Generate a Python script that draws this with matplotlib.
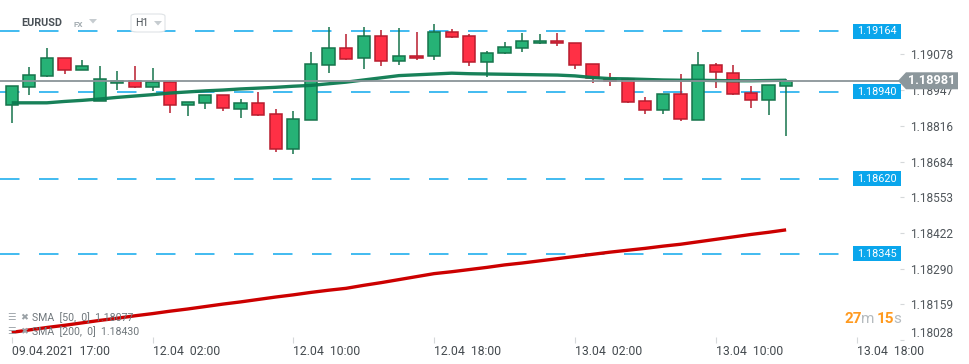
import matplotlib
matplotlib.use("Agg")
import matplotlib.pyplot as plt
from matplotlib.patches import Polygon, Rectangle, FancyBboxPatch
import numpy as np

plt.rcParams["font.family"] = ["Roboto", "DejaVu Sans"]

# EURUSD H1 candles (open, high, low, close)
opens = [1.18891, 1.18957, 1.18998, 1.19064, 1.19020, 1.18906, 1.18974, 1.18981, 1.18957, 1.18975,
         1.18891, 1.18898, 1.18928, 1.18876, 1.18898, 1.18858, 1.18729, 1.18836, 1.19038, 1.19100,
         1.19064, 1.19145, 1.19053, 1.19071, 1.19071, 1.19159, 1.19145, 1.19049, 1.19082, 1.19100,
         1.19119, 1.19126, 1.19119, 1.19042, 1.18987, 1.18988, 1.18906, 1.18873, 1.18931, 1.18838,
         1.19038, 1.19009, 1.18935, 1.18909, 1.18961]
highs = [1.18961, 1.19032, 1.19100, 1.19065, 1.19056, 1.19034, 1.19017, 1.19034, 1.19027, 1.18980,
         1.18903, 1.18929, 1.18929, 1.18913, 1.18939, 1.18878, 1.18869, 1.19086, 1.19179, 1.19153,
         1.19179, 1.19167, 1.19175, 1.19160, 1.19190, 1.19171, 1.19153, 1.19089, 1.19123, 1.19157,
         1.19153, 1.19157, 1.19120, 1.19043, 1.19010, 1.18993, 1.18920, 1.18932, 1.19007, 1.19087,
         1.19045, 1.19038, 1.18961, 1.18966, 1.18989]
lows = [1.18827, 1.18930, 1.18995, 1.19007, 1.19019, 1.18905, 1.18948, 1.18956, 1.18942, 1.18862,
        1.18853, 1.18878, 1.18871, 1.18845, 1.18853, 1.18720, 1.18713, 1.18835, 1.19009, 1.19059,
        1.19025, 1.19034, 1.19038, 1.19056, 1.19056, 1.19137, 1.19034, 1.18994, 1.19078, 1.19086,
        1.19118, 1.19108, 1.19023, 1.18972, 1.18960, 1.18901, 1.18860, 1.18860, 1.18832, 1.18837,
        1.18953, 1.18930, 1.18880, 1.18854, 1.18777]
closes = [1.18961, 1.19001, 1.19064, 1.19020, 1.19034, 1.18987, 1.18981, 1.18957, 1.18975, 1.18891,
          1.18902, 1.18928, 1.18880, 1.18898, 1.18854, 1.18729, 1.18839, 1.19042, 1.19100, 1.19060,
          1.19145, 1.19053, 1.19071, 1.19064, 1.19159, 1.19141, 1.19049, 1.19082, 1.19104, 1.19126,
          1.19126, 1.19119, 1.19038, 1.18990, 1.18979, 1.18902, 1.18873, 1.18931, 1.18839, 1.19038,
          1.19012, 1.18931, 1.18909, 1.18964, 1.18981]

# moving averages
sma50 = [1.18900, 1.18900, 1.18900, 1.18905, 1.18909, 1.18914, 1.18920, 1.18925, 1.18930, 1.18936,
         1.18940, 1.18944, 1.18947, 1.18951, 1.18954, 1.18957, 1.18961, 1.18964, 1.18970, 1.18976,
         1.18984, 1.18992, 1.19000, 1.19003, 1.19006, 1.19009, 1.19007, 1.19006, 1.19005, 1.19004,
         1.19003, 1.19002, 1.18999, 1.18993, 1.18989, 1.18988, 1.18986, 1.18984, 1.18983, 1.18983,
         1.18982, 1.18981, 1.18981, 1.18982, 1.18983]
sma200 = [1.18056, 1.18065, 1.18074, 1.18082, 1.18091, 1.18100, 1.18108, 1.18117, 1.18125, 1.18134,
          1.18142, 1.18151, 1.18160, 1.18168, 1.18177, 1.18186, 1.18194, 1.18203, 1.18211, 1.18218,
          1.18229, 1.18239, 1.18250, 1.18261, 1.18272, 1.18279, 1.18287, 1.18295, 1.18304, 1.18311,
          1.18319, 1.18327, 1.18335, 1.18343, 1.18351, 1.18358, 1.18365, 1.18373, 1.18380, 1.18389,
          1.18398, 1.18407, 1.18416, 1.18424, 1.18433]

level_lines = [1.19164, 1.18940, 1.18620, 1.18345]
last_price = 1.18981
y_ticks = [1.19078, 1.18947, 1.18816, 1.18684, 1.18553, 1.18422, 1.18290, 1.18159, 1.18028]
x_tick_pos = [0, 8, 16, 24, 32, 40, 48]
x_tick_labels = ["09.04.2021  17:00", "12.04  02:00", "12.04  10:00", "12.04  18:00",
                 "13.04  02:00", "13.04  10:00", "13.04  18:00"]

W, H = 970, 364
fig = plt.figure(figsize=(W / 100, H / 100), dpi=100)
ax = fig.add_axes([0, 24 / H, 900 / W, 340 / H])
ax.set_xlim(-0.665, 50.47)
ax.set_ylim(1.18028, 1.19278)
for s in ax.spines.values():
    s.set_visible(False)

GREEN, GREEN_EDGE = "#26b276", "#16744c"
RED, RED_EDGE = "#ff3045", "#b81c2e"

x = np.arange(len(opens))
o = np.array(opens); c = np.array(closes)
up = c >= o
body_lo = np.minimum(o, c)
body_h = np.maximum(np.abs(c - o), 0.00006)
fills = np.where(up, GREEN, RED)
edges = np.where(up, GREEN_EDGE, RED_EDGE)

ax.vlines(x, lows, highs, colors=edges, linewidth=1.1, zorder=3)
ax.bar(x, body_h, bottom=body_lo, width=0.7, color=fills, edgecolor=edges,
       linewidth=1.1, zorder=4)

# SMA lines
ax.plot(x, sma50, color="#0b7a50", linewidth=2.4, zorder=5, alpha=0.95, solid_capstyle="butt")
ax.plot(x, sma200, color="#cc0000", linewidth=2.4, zorder=5, solid_capstyle="butt")

# horizontal levels with tags
for lv in level_lines:
    ax.plot([0, 853 / 900], [lv, lv], transform=ax.get_yaxis_transform(),
            color="#33b5ef", linewidth=1.3, dashes=(10.8, 10.8), dash_capstyle="butt",
            zorder=2)
    y_pix = ax.transData.transform((0, lv))[1]
    fig.patches.append(Rectangle((853 / W, (y_pix - 7.5) / H), 48 / W, 15 / H,
                                 transform=fig.transFigure, facecolor="#0aa6ec",
                                 edgecolor="none", zorder=10))
    fig.text(877 / W, y_pix / H, f"{lv:.5f}", color="white", fontsize=7.8,
             ha="center", va="center", zorder=11)

# last price line + tag
ax.plot([0, 1], [last_price, last_price], transform=ax.get_yaxis_transform(),
        color="#8a9499", linewidth=1.3, zorder=6)
yp = ax.transData.transform((0, last_price))[1]
tag = Polygon([(898 / W, yp / H), (906 / W, (yp + 8.5) / H), (958 / W, (yp + 8.5) / H),
               (958 / W, (yp - 8.5) / H), (906 / W, (yp - 8.5) / H)],
              closed=True, transform=fig.transFigure, facecolor="#8c979c",
              edgecolor="none", zorder=12)
fig.patches.append(tag)
fig.text(932 / W, yp / H, "1.18981", color="white", fontsize=9.2, fontweight="bold",
         ha="center", va="center", zorder=13)

# right axis
ax.yaxis.tick_right()
ax.set_yticks(y_ticks)
ax.set_yticklabels([f"{v:.5f}" for v in y_ticks])
ax.tick_params(axis="y", direction="out", length=3, width=0.8, color="#d5d8da",
               labelsize=8.6, labelcolor="#50565b", pad=4)
ax.get_yticklabels()[-1].set_va("bottom")

# bottom axis
ax.set_xticks(x_tick_pos)
ax.set_xticklabels(x_tick_labels, ha="left")
ax.tick_params(axis="x", direction="inout", length=5, width=0.8, color="#d5d8da",
               labelsize=8.8, labelcolor="#444a4f", pad=1)

# header
fig.text(21 / W, 1 - 23 / H, "EURUSD", fontsize=7.8, fontweight="bold", color="#4a5157",
         ha="left", va="center")
fig.text(74 / W, 1 - 24.5 / H, "FX", fontsize=5.8, fontweight="bold", color="#a3acb1",
         ha="left", va="center")
fig.patches.append(Polygon([(89 / W, 1 - 19 / H), (97 / W, 1 - 19 / H), (93 / W, 1 - 23.5 / H)],
                           transform=fig.transFigure, facecolor="#c6ccd0", edgecolor="none"))
fig.patches.append(FancyBboxPatch((131 / W, 1 - 32 / H), 34 / W, 18 / H,
                                  boxstyle="round,pad=0,rounding_size=0.006",
                                  transform=fig.transFigure, facecolor="white",
                                  edgecolor="#dfe3e6", linewidth=0.8))
fig.text(135 / W, 1 - 23.5 / H, "H1", fontsize=7.6, color="#4a5157", ha="left", va="center")
fig.patches.append(Polygon([(154 / W, 1 - 21 / H), (162 / W, 1 - 21 / H), (158 / W, 1 - 25.5 / H)],
                           transform=fig.transFigure, facecolor="#c6ccd0", edgecolor="none"))

# legend bottom-left
for yy, label in [(318, "SMA  [50,  0]  1.18077"), (332, "SMA  [200,  0]  1.18430")]:
    fig.text(7 / W, 1 - yy / H, "\u2630", fontsize=6.8, color="#9aa1a6", ha="left",
             va="center", family="DejaVu Sans")
    fig.text(20 / W, 1 - yy / H, "\u2716", fontsize=6.8, color="#9aa1a6", ha="left",
             va="center", family="DejaVu Sans")
    fig.text(32 / W, 1 - yy / H, label, fontsize=7.6, color="#6f767b", ha="left", va="center")

# countdown
cy = 1 - 319 / H
fig.text(845 / W, cy, "27", fontsize=11, fontweight="bold", color="#ff9a1f", ha="left", va="center")
fig.text(861 / W, cy, "m", fontsize=11, color="#b5bbbf", ha="left", va="center")
fig.text(877 / W, cy, "15", fontsize=11, fontweight="bold", color="#ff9a1f", ha="left", va="center")
fig.text(893 / W, cy, "s", fontsize=11, color="#b5bbbf", ha="left", va="center")

fig.savefig("out.png", dpi=100, facecolor="white")
